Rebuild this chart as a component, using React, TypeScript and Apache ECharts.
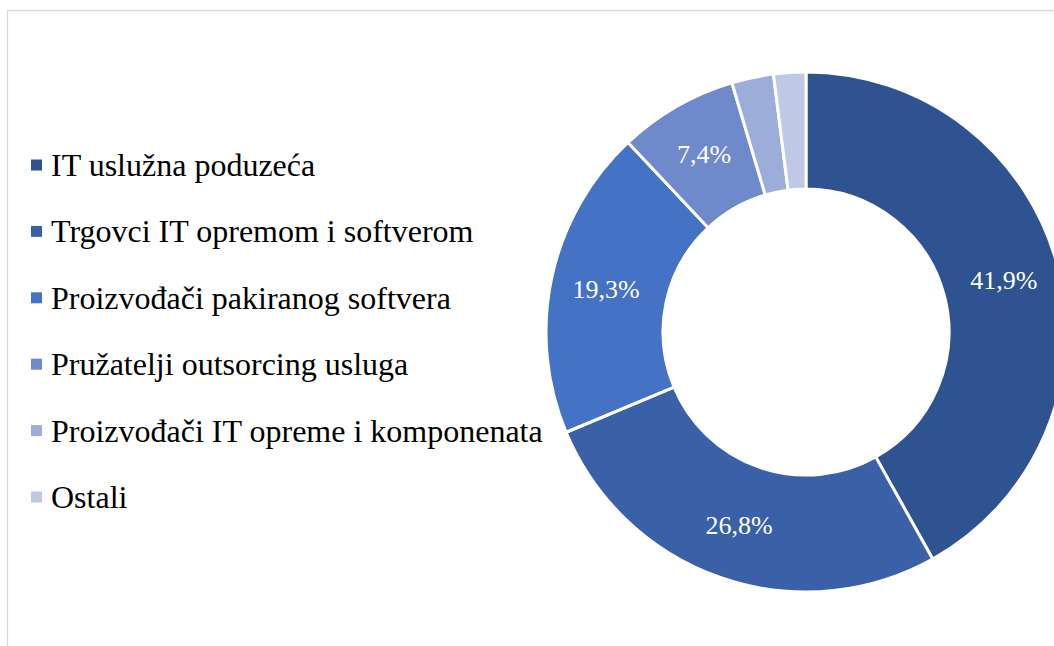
import React, { useEffect, useRef } from "react";
import * as echarts from "echarts";

const categories = [
  "IT uslužna poduzeća",
  "Trgovci IT opremom i softverom",
  "Proizvođači pakiranog softvera",
  "Pružatelji outsorcing usluga",
  "Proizvođači IT opreme i komponenata",
  "Ostali",
];
const values = [41.9, 26.8, 19.3, 7.4, 2.6, 2.0];
const colors = ["#2F5390", "#3A60A8", "#4472C4", "#6E8ACB", "#9DADD9", "#BFC9E5"];
const showLabel = [true, true, true, true, false, false];

export default function App() {
  const ref = useRef<HTMLDivElement>(null);
  useEffect(() => {
    if (!ref.current) return;
    const chart = echarts.init(ref.current, null, { renderer: "svg" });
    const font = "Liberation Serif";
    chart.setOption({
      animation: false,
      backgroundColor: "#ffffff",
      color: colors,
      textStyle: { fontFamily: font },
      legend: {
        orient: "vertical",
        left: 31,
        top: 146,
        padding: 0,
        itemWidth: 11,
        itemHeight: 11,
        itemGap: 28.4,
        icon: "rect",
        selectedMode: false,
        itemStyle: { borderWidth: 0 },
        textStyle: {
          fontFamily: font,
          fontSize: 32,
          color: "#000000",
          lineHeight: 38,
          padding: [0, 0, 0, 4],
        },
        data: categories,
      },
      graphic: [
        {
          type: "line",
          shape: { x1: 7, y1: 10.5, x2: 1054, y2: 10.5 },
          style: { stroke: "#d9d9d9", lineWidth: 1.3 },
          silent: true,
        },
        {
          type: "line",
          shape: { x1: 7.5, y1: 10, x2: 7.5, y2: 646 },
          style: { stroke: "#d9d9d9", lineWidth: 1.3 },
          silent: true,
        },
      ],
      series: [
        {
          type: "pie",
          center: [806, 332],
          radius: [143, 260],
          startAngle: 90,
          clockwise: true,
          avoidLabelOverlap: false,
          itemStyle: { borderColor: "#ffffff", borderWidth: 3 },
          label: {
            show: true,
            position: "inside",
            color: "#ffffff",
            fontFamily: font,
            fontSize: 26,
            formatter: (p: any) => p.value.toFixed(1).replace(".", ",") + "%",
          },
          labelLine: { show: false },
          emphasis: { disabled: true },
          data: categories.map((name, i) => ({
            name,
            value: values[i],
            label: { show: showLabel[i] },
          })),
        },
      ],
    });
    return () => chart.dispose();
  }, []);
  return (
    <div
      ref={ref}
      style={{ position: "fixed", left: 0, top: 0, width: 1054, height: 646 }}
    />
  );
}
